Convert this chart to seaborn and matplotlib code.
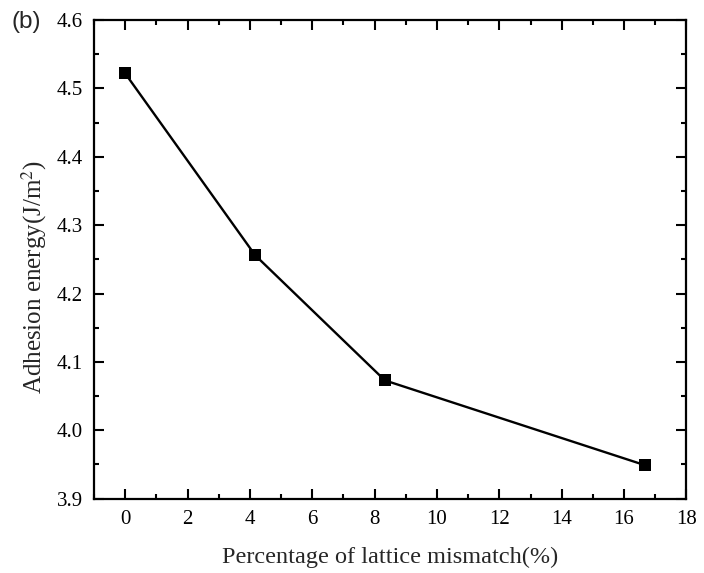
import matplotlib
matplotlib.use("Agg")
import matplotlib.pyplot as plt
from matplotlib.ticker import MultipleLocator
import seaborn as sns
import pandas as pd

# Lattice mismatch (%) and the corresponding adhesion energy (J/m^2)
mismatch = [0.0, 4.17, 8.33, 16.67]
adhesion = [4.522, 4.256, 4.073, 3.949]

sns.set_theme(style="ticks")
plt.rcParams["font.family"] = ["Liberation Serif", "DejaVu Serif"]
plt.rcParams["mathtext.fontset"] = "stix"

df = pd.DataFrame({"mismatch": mismatch, "adhesion": adhesion})

fig = plt.figure(figsize=(7.04, 5.73), dpi=100)
ax = fig.add_axes([0.1335, 0.1297, 0.8415, 0.8353])

sns.lineplot(data=df, x="mismatch", y="adhesion", ax=ax, color="black",
             linewidth=1.7, marker="s", markersize=8, markeredgewidth=0,
             markerfacecolor="black")

ax.set_xlim(-1, 18)
ax.set_ylim(3.9, 4.6)
ax.xaxis.set_major_locator(MultipleLocator(2))
ax.xaxis.set_minor_locator(MultipleLocator(1))
ax.yaxis.set_major_locator(MultipleLocator(0.1))
ax.yaxis.set_minor_locator(MultipleLocator(0.05))
ax.yaxis.set_major_formatter(matplotlib.ticker.FormatStrFormatter("%.1f"))

for s in ax.spines.values():
    s.set_visible(True)
    s.set_linewidth(1.6)
    s.set_color("black")

ax.tick_params(which="both", direction="in", top=True, right=True,
               color="black", width=1.5, labelsize=15, labelcolor="black")
ax.tick_params(which="major", length=7, pad=8)
ax.tick_params(which="minor", length=3.5)

ax.set_xlabel("Percentage of lattice mismatch(%)", fontsize=17.5, labelpad=13)
ax.set_ylabel(r"Adhesion energy(J/m$^2$)", fontsize=18, labelpad=5.5, y=0.463)

fig.text(0.016, 0.962, "(b)", fontsize=17.5, family="Liberation Sans",
         va="center", ha="left")

fig.savefig("out.png", dpi=100)
